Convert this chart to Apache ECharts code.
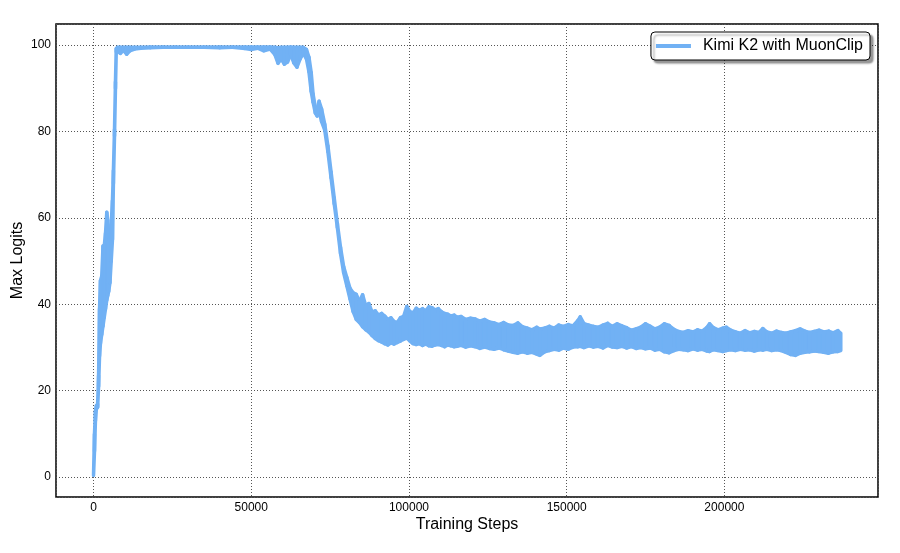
<!DOCTYPE html>
<html>
<head>
<meta charset="utf-8">
<title>Max Logits</title>
<script src="https://cdn.jsdelivr.net/npm/echarts@6/dist/echarts.min.js"></script>
<style>
	html, body { margin: 0; padding: 0; background: #fff; }
	#chart { width: 900px; height: 553px; }
</style>
</head>
<body>
<div id="chart"></div>
<script>
// training steps (x)
var steps = [
	0, 300, 600, 900, 1300, 1600, 1900, 2200, 2600, 3000, 3400, 3800, 4200, 4500, 4800, 5200, 5600, 6000, 6300, 6650, 6950, 7200,
	7600, 8500, 9500, 10500, 11500, 13000, 15000, 18000, 22000, 26000, 30000, 35000, 40000, 44000, 48000, 50000, 52000, 54000, 56000,
	57500, 58500, 59500, 60500, 61500, 62500, 63500, 64500, 65500, 66500, 67500, 68300, 69000, 69600, 70300, 70900, 71500, 72300,
	73300, 74300, 75300, 76300, 77300, 78300, 79300, 80300, 81300, 82300, 83300, 84300, 85300, 86300, 87300, 88300, 89300, 90300,
	91300, 92300, 93300, 94300, 95300, 96300, 97300, 98300, 99300, 100300, 101300, 102300, 103300, 104300, 105300, 106300, 107300,
	108300, 109300, 110300, 111300, 112300, 113300, 114300, 115300, 116500, 118000, 119500, 121000, 122500, 124000, 125500, 127000,
	128500, 130000, 131500, 133000, 134500, 136000, 137500, 139000, 140500, 141500, 143000, 144500, 146000, 147500, 149000, 150500,
	152000, 153500, 154300, 155500, 157000, 158500, 160000, 161500, 163000, 164500, 166000, 167500, 169000, 170500, 172000, 173500,
	175000, 176500, 178000, 179500, 181000, 182500, 184000, 185500, 187000, 188500, 190000, 191500, 193000, 194500, 195300, 196500,
	198000, 199500, 200600, 202000, 203500, 205000, 206500, 208000, 209500, 211000, 212200, 213500, 215000, 216500, 218000, 219500,
	221000, 222500, 224000, 225500, 227000, 228500, 230000, 231500, 233000, 234500, 236000, 236900
]

// top edge of the noisy curve
var upperLogits = [
	0.6, 10, 15.3, 16.5, 16.9, 23.5, 39, 45.5, 46.5, 53.5, 53.5, 56.5, 61.3, 59.5, 54.5, 55.5, 58.5, 64, 71, 80.5, 91.5, 99.2,
	99.5, 99.5, 99.5, 99.5, 99.5, 99.5, 99.5, 99.6, 99.6, 99.6, 99.6, 99.6, 99.6, 99.6, 99.6, 99.6, 99.6, 99.6, 99.6,
	99.5, 99.4, 99.5, 99.5, 99.5, 99.6, 99.5, 99.5, 99.5, 99.5, 99.0, 97.2, 93.7, 88.7, 85.7, 85.2, 87.0, 85.2,
	81.7, 76.7, 70.7, 64.7, 58.7, 53.2, 48.7, 46.2, 43.7, 42.7, 42.3, 40.7, 42.2, 39.7, 40.2, 38.2, 38.5, 37.5,
	37.9, 37.3, 36.5, 36.9, 36.0, 35.8, 36.9, 37.2, 39.5, 38.3, 38.0, 39.1, 38.6, 39.0, 38.5, 39.4, 39.2,
	38.7, 39.0, 38.3, 37.9, 37.7, 37.3, 37.5, 37.0, 37.2, 36.5, 36.8, 36.6, 36.1, 36.5, 35.9, 35.7,
	35.3, 35.8, 35.2, 35.1, 35.7, 34.8, 34.5, 34.1, 34.7, 34.3, 34.5, 34.9, 34.5, 35.2, 34.9, 35.3,
	35.0, 36.2, 37.1, 35.5, 35.2, 34.9, 34.7, 35.2, 35.6, 34.9, 35.5, 35.0, 34.6, 34.0, 34.3, 34.7,
	35.5, 34.9, 34.3, 34.7, 35.5, 35.1, 34.2, 33.7, 33.5, 33.9, 33.6, 34.1, 33.8, 34.7, 35.5, 34.6,
	34.1, 34.5, 34.7, 34.0, 33.6, 33.3, 33.9, 33.4, 33.7, 33.5, 34.4, 33.6, 33.3, 33.8, 33.5, 33.3,
	33.6, 33.9, 34.3, 33.8, 33.5, 33.7, 34.0, 33.6, 33.8, 33.4, 33.9, 33.3
]

// bottom edge of the noisy curve
var lowerLogits = [
	0.4, 6, 13, 15.8, 16.2, 21, 28, 31, 33, 35, 37, 39, 41, 42, 43, 45, 50, 55, 68, 79, 90, 98.5,
	98.6, 98.1, 98.8, 97.9, 98.7, 99.1, 99.3, 99.4, 99.5, 99.5, 99.5, 99.5, 99.4, 99.5, 99.2, 99.0, 99.3, 98.7, 99.1,
	97.8, 95.8, 96.8, 95.6, 96.1, 97.8, 95.9, 94.9, 96.8, 98.1, 96.8, 93.8, 89.3, 86.8, 84.3, 83.6, 84.8, 82.3,
	80.3, 75.3, 69.3, 63.3, 57.8, 51.8, 47.3, 44.3, 41.3, 38.3, 36.5, 35.8, 34.8, 34.1, 33.6, 32.8, 32.1, 31.6,
	31.3, 30.9, 30.6, 31.1, 30.8, 31.2, 31.5, 31.9, 32.2, 31.5, 30.9, 30.7, 30.9, 30.5, 30.8, 30.4, 30.3,
	30.6, 30.7, 30.5, 30.2, 30.6, 30.4, 30.2, 30.3, 30.5, 30.1, 30.4, 30.2, 29.8, 30.1, 29.8, 29.6,
	29.9, 29.5, 29.2, 28.9, 28.7, 29.0, 28.7, 28.9, 28.5, 28.2, 29.0, 29.3, 29.6, 29.4, 29.9, 29.6,
	30.1, 30.2, 30.3, 30.0, 30.4, 30.1, 30.3, 29.9, 30.5, 30.1, 30.0, 30.3, 29.9, 30.2, 29.8, 30.0,
	29.7, 29.9, 29.4, 29.6, 29.0, 28.8, 29.3, 29.6, 29.5, 29.3, 29.7, 29.4, 29.6, 29.2, 29.1, 29.5,
	29.3, 29.1, 29.3, 29.5, 29.3, 29.6, 29.4, 29.5, 29.2, 29.5, 29.4, 29.6, 29.3, 29.5, 29.3, 28.9,
	28.4, 28.2, 28.7, 28.9, 29.0, 29.2, 29.1, 28.9, 28.7, 29.0, 29.1, 29.3
]

var xTicks = [0, 50000, 100000, 150000, 200000]
var yTicks = [0, 20, 40, 60, 80, 100]

var seriesName = 'Kimi K2 with MuonClip'
var lineColor = '#71b1f4'
var font = '"Liberation Sans", Arial, Helvetica, sans-serif'

// one row per sample: step, bottom edge, top edge
var bandRows = []
for (var i = 0; i < steps.length; i++) {
	bandRows.push([steps[i], lowerLogits[i], upperLogits[i]])
}

// fill the band between two neighbouring samples, stroked so the thin parts look like a thick line
function renderBand(params, api) {
	var i = params.dataIndex
	if (i >= steps.length - 1) return null
	var p1 = api.coord([api.value(0), api.value(2)])
	var p2 = api.coord([steps[i + 1], upperLogits[i + 1]])
	var p3 = api.coord([steps[i + 1], lowerLogits[i + 1]])
	var p4 = api.coord([api.value(0), api.value(1)])
	return {
		type: 'polygon',
		shape: { points: [p1, p2, p3, p4] },
		style: { fill: lineColor, stroke: lineColor, lineWidth: 3.5, lineJoin: 'round', lineCap: 'round' }
	}
}

var chart = echarts.init(document.getElementById('chart'), null, { renderer: 'canvas' })

var gridLine = {
	show: true,
	lineStyle: { color: '#555', width: 1, type: [1, 2] }
}

var option = {
	animation: false,
	backgroundColor: '#fff',
	textStyle: { fontFamily: font },
	grid: {
		left: 56, right: 22, top: 24, bottom: 56,
		outerBoundsMode: 'none',
		containLabel: false,
		show: true,
		borderColor: '#000',
		borderWidth: 1.5
	},
	legend: {
		data: [seriesName],
		right: 30,
		top: 32,
		icon: 'rect',
		itemWidth: 35,
		itemHeight: 4,
		padding: [6, 7, 6, 5],
		backgroundColor: '#fff',
		borderColor: '#000',
		borderWidth: 1,
		borderRadius: 4,
		shadowColor: 'rgba(0,0,0,0.4)',
		shadowOffsetX: 3,
		shadowOffsetY: 3,
		shadowBlur: 2,
		itemStyle: { color: lineColor },
		textStyle: { fontFamily: font, fontSize: 16, color: '#000', padding: [0, 0, 0, 7] }
	},
	xAxis: {
		type: 'value',
		min: -11900,
		max: 248700,
		splitNumber: 5,
		name: 'Training Steps',
		nameLocation: 'middle',
		nameGap: 20,
		nameMoveOverlap: false,
		nameTextStyle: { fontFamily: font, fontSize: 16, color: '#000' },
		axisLine: { show: false },
		axisTick: { show: false },
		axisLabel: {
			showMinLabel: false,
			showMaxLabel: false,
			margin: 5,
			fontFamily: font,
			fontSize: 12,
			color: '#000',
			formatter: function(v) { return xTicks.indexOf(v) >= 0 ? String(v) : '' }
		},
		splitLine: gridLine
	},
	yAxis: {
		type: 'value',
		min: -4.6,
		max: 104.9,
		splitNumber: 5,
		name: 'Max Logits',
		nameLocation: 'middle',
		nameRotate: 90,
		nameGap: 30,
		nameMoveOverlap: false,
		nameTextStyle: { fontFamily: font, fontSize: 16, color: '#000' },
		axisLine: { show: false },
		axisTick: { show: false },
		axisLabel: {
			showMinLabel: false,
			showMaxLabel: false,
			margin: 5,
			fontFamily: font,
			fontSize: 12,
			color: '#000',
			formatter: function(v) { return yTicks.indexOf(v) >= 0 ? String(v) : '' }
		},
		splitLine: gridLine
	},
	series: [{
		name: seriesName,
		type: 'custom',
		renderItem: renderBand,
		data: bandRows,
		encode: { x: 0, y: [1, 2] },
		clip: true,
		itemStyle: { color: lineColor }
	}]
}

chart.setOption(option)
</script>
</body>
</html>
